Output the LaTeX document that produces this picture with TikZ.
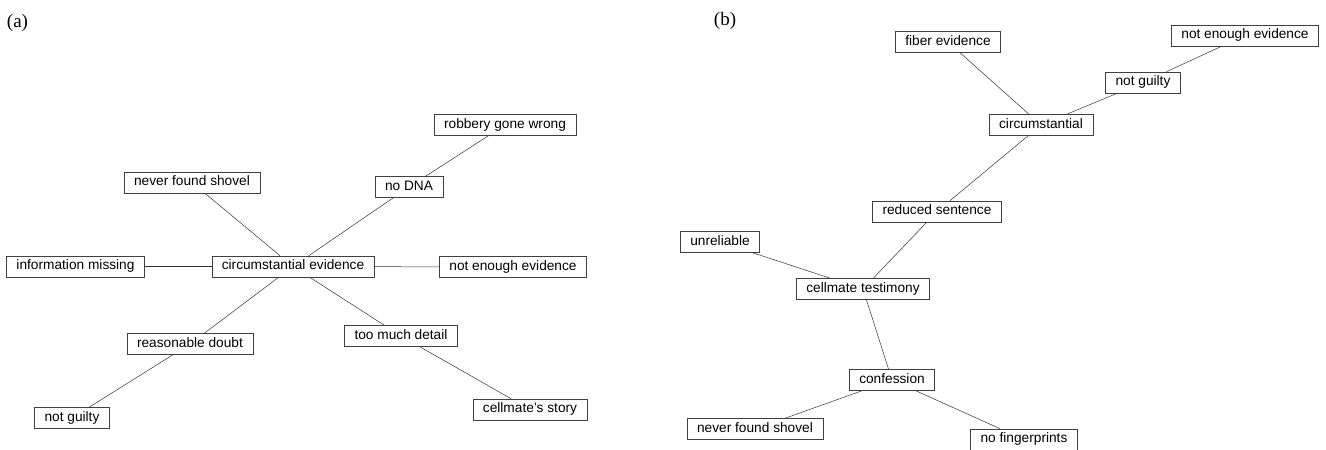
\documentclass[tikz,border=0pt]{standalone}
\usepackage{fontspec}
\setmainfont{Liberation Sans}
\newfontfamily\panelfont{Liberation Serif}
\begin{document}
\begin{tikzpicture}[x=1pt,y=-1pt,
  box/.style={draw=black!75, line width=0.6pt, font=\fontsize{13.7}{15}\selectfont,
    inner xsep=10pt, inner ysep=3.9pt, text height=10pt, text depth=3.2pt},
  link/.style={draw=black!80, line width=0.5pt},
  panel/.style={font=\panelfont\fontsize{19}{21}\selectfont, inner sep=0pt}]
  \useasboundingbox (0,0) rectangle (1326,450);

  % (a) circumstantial evidence in the middle
  \node[panel] (la) at (17.5,22.5) {(a)};
  \node[box] (ce)  at (293,266.5) {circumstantial evidence};
  \node[box] (rgw) at (505,125)   {robbery gone wrong};
  \node[box] (nfs) at (192,182.5) {never found shovel};
  \node[box] (dna) at (409,187)   {no DNA};
  \node[box] (im)  at (75.5,266.5) {information missing};
  \node[box] (nee) at (513,267)   {not enough evidence};
  \node[box] (rd)  at (190,344)   {reasonable doubt};
  \node[box] (tmd) at (401,336)   {too much detail};
  \node[box] (ng)  at (72,418)    {not guilty};
  \node[box] (cs)  at (530,409.5) {cellmate's story};

  \draw[link] (ce) -- (nfs);
  \draw[link] (ce) -- (dna) -- (rgw);
  \draw[link] (ce) -- (im);
  \draw[link] (ce) -- (nee);
  \draw[link] (ce) -- (rd) -- (ng);
  \draw[link] (ce) -- (tmd) -- (cs);

  % (b) chain from fiber evidence down to the confession
  \node[panel] (lb) at (725,20.5) {(b)};
  \node[box] (fe)   at (948,42)    {fiber evidence};
  \node[box] (nee2) at (1245,35.5) {not enough evidence};
  \node[box] (ng2)  at (1143,82.5) {not guilty};
  \node[box] (circ) at (1041,125)  {circumstantial};
  \node[box] (rs)   at (937,211.5) {reduced sentence};
  \node[box] (unr)  at (720,242)   {unreliable};
  \node[box] (ct)   at (863,289)   {cellmate testimony};
  \node[box] (conf) at (892,380)   {confession};
  \node[box] (nfs2) at (755,429)   {never found shovel};
  \node[box] (nfp)  at (1024,439.5) {no fingerprints};

  \draw[link] (fe) -- (circ);
  \draw[link] (circ) -- (ng2) -- (nee2);
  \draw[link] (circ) -- (rs) -- (ct);
  \draw[link] (unr) -- (ct);
  \draw[link] (ct) -- (conf);
  \draw[link] (conf) -- (nfs2);
  \draw[link] (conf) -- (nfp);
\end{tikzpicture}
\end{document}
